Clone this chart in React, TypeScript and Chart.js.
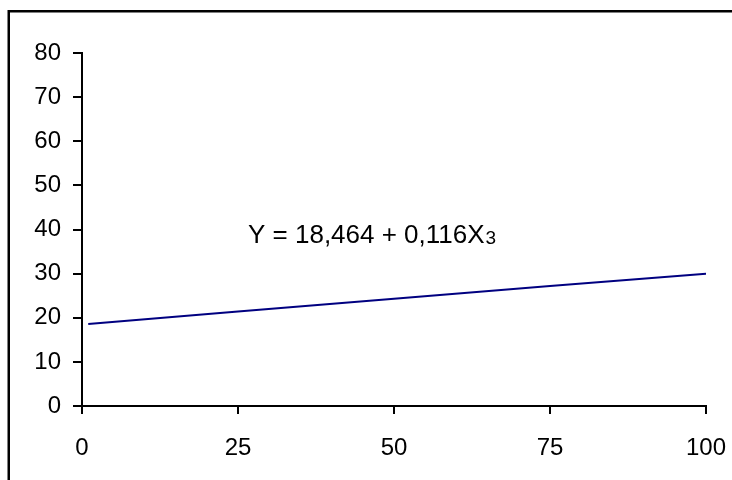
import React, { useEffect, useRef } from "react";
import { Chart, registerables } from "chart.js";

Chart.register(...registerables);

const xValues = [1, 25, 50, 75, 100];
const yValues = [18.6, 21.4, 24.3, 27.2, 30.0];
const xTicks = [0, 25, 50, 75, 100];
const equationText = "Y = 18,464 + 0,116X";
const equationSub = "3";
const equationAt = { x: 26.6, y: 37 };

export default function App() {
  const ref = useRef<HTMLCanvasElement | null>(null);

  useEffect(() => {
    if (!ref.current) return;
    const framePlugin = {
      id: "frame",
      beforeDraw(chart: any) {
        const ctx = chart.ctx;
        ctx.save();
        ctx.fillStyle = "#ffffff";
        ctx.fillRect(0, 0, chart.width, chart.height);
        ctx.strokeStyle = "#000000";
        ctx.lineWidth = 2.5;
        ctx.strokeRect(8.75, 11.25, 800, 600);
        ctx.restore();
      },
      afterDraw(chart: any) {
        const ctx = chart.ctx;
        const xs = chart.scales.x;
        const ys = chart.scales.y;
        const px = xs.getPixelForValue(equationAt.x);
        const py = ys.getPixelForValue(equationAt.y);
        ctx.save();
        ctx.fillStyle = "#000000";
        ctx.textBaseline = "alphabetic";
        ctx.textAlign = "left";
        ctx.font = "26px 'Liberation Sans', Arial, sans-serif";
        ctx.fillText(equationText, px, py);
        const w = ctx.measureText(equationText).width;
        ctx.font = "19px 'Liberation Sans', Arial, sans-serif";
        ctx.fillText(equationSub, px + w + 1, py + 1);
        ctx.restore();
      },
    };

    const chart = new Chart(ref.current, {
      type: "line",
      data: {
        datasets: [
          {
            data: xValues.map((x, i) => ({ x, y: yValues[i] })),
            borderColor: "#000080",
            borderWidth: 2,
            pointRadius: 0,
            fill: false,
            tension: 0,
          },
        ],
      },
      options: {
        animation: false,
        responsive: false,
        maintainAspectRatio: false,
        devicePixelRatio: 1,
        layout: { padding: { top: 53, right: 26, left: 0, bottom: 0 } },
        plugins: { legend: { display: false }, tooltip: { enabled: false } },
        scales: {
          x: {
            type: "linear",
            min: 0,
            max: 100,
            afterBuildTicks(scale: any) {
              scale.ticks = xTicks.map((v) => ({ value: v }));
            },
            afterFit(scale: any) {
              scale.height = 74;
              scale.paddingLeft = 0;
              scale.paddingRight = 0;
            },
            border: { display: true, color: "#000", width: 2 },
            grid: {
              display: true,
              drawOnChartArea: false,
              drawTicks: true,
              tickLength: 8,
              color: "#000",
              lineWidth: 2,
            },
            ticks: {
              color: "#000",
              font: { family: "'Liberation Sans', Arial, sans-serif", size: 24 },
              padding: 20,
              maxRotation: 0,
            },
          },
          y: {
            min: 0,
            max: 80,
            afterFit(scale: any) {
              scale.width = 82;
              scale.paddingTop = 0;
              scale.paddingBottom = 0;
            },
            border: { display: true, color: "#000", width: 2 },
            grid: {
              display: true,
              drawOnChartArea: false,
              drawTicks: true,
              tickLength: 9,
              color: "#000",
              lineWidth: 2,
            },
            ticks: {
              stepSize: 10,
              color: "#000",
              font: { family: "'Liberation Sans', Arial, sans-serif", size: 24 },
              padding: 12,
            },
          },
        },
      },
      plugins: [framePlugin],
    });
    return () => chart.destroy();
  }, []);

  return (
    <div style={{ position: "fixed", left: 0, top: 0, width: 732, height: 480, background: "#fff" }}>
      <canvas ref={ref} width={732} height={480} style={{ display: "block", width: 732, height: 480 }} />
    </div>
  );
}
